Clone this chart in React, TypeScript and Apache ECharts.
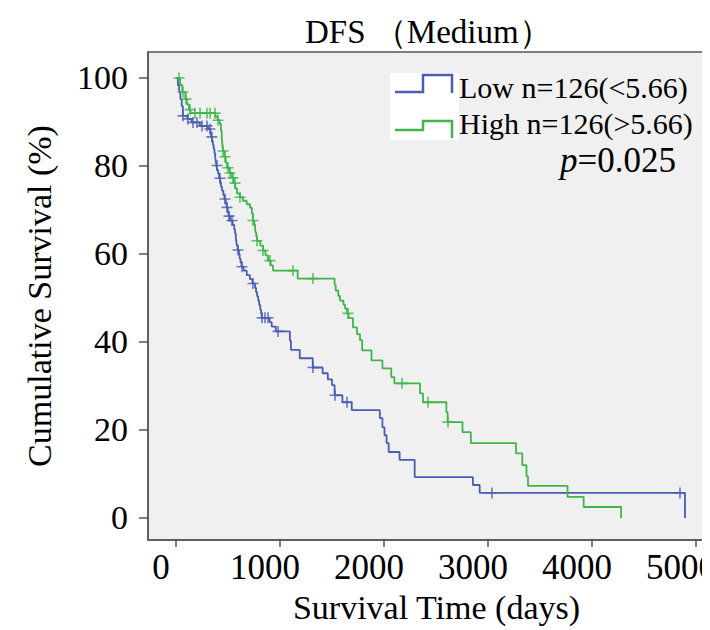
import React, { useEffect, useRef } from "react";
import * as echarts from "echarts";

const xTicks = [0, 1000, 2000, 3000, 4000, 5000];
const yTicks = [0, 20, 40, 60, 80, 100];

const lowLabel = "Low n=126(<5.66)";
const highLabel = "High n=126(>5.66)";
const pValue = "0.025";

// Kaplan-Meier steps: [time (days), cumulative survival (%) after the event]
const lowSteps: [number, number][] = [
  [0, 100], [18, 98.4], [30, 96.8], [42, 95.2], [55, 93.6], [66, 91.4], [110, 90.7], [150, 89.9], [230, 89.1], [310, 88.4],
  [330, 87.5], [338, 86.6], [346, 85.7], [355, 84.8], [362, 83.9], [370, 82.9], [377, 82.0], [383, 81.0], [389, 80.1], [395, 79.1],
  [405, 78.2], [415, 77.2], [425, 76.3], [433, 75.3], [442, 74.4], [455, 73.4], [466, 72.5], [478, 71.5], [488, 70.6], [497, 69.6],
  [505, 68.6], [520, 67.6], [545, 66.6], [560, 65.6], [568, 64.7], [575, 63.8], [580, 62.8], [585, 61.9], [592, 60.9], [605, 60.0],
  [612, 59.0], [620, 58.1], [630, 57.1], [650, 56.2], [680, 55.2], [710, 54.3], [735, 53.3], [760, 52.3], [770, 51.3], [780, 50.4],
  [790, 49.4], [800, 48.4], [810, 47.4], [818, 46.4], [825, 45.5], [900, 44.5], [920, 43.5], [960, 42.4], [1095, 40.3], [1105, 38.2],
  [1190, 36.3], [1315, 34.2], [1410, 32.9], [1460, 31.5], [1500, 30.2], [1525, 27.9], [1600, 26.3], [1690, 24.5], [1960, 22.7], [1985, 20.6],
  [2005, 18.8], [2025, 17.0], [2045, 15.0], [2150, 13.2], [2295, 9.3], [2855, 7.5], [2920, 5.7], [4894, 0],
];

const highSteps: [number, number][] = [
  [0, 100], [40, 98.4], [60, 96.8], [90, 95.2], [105, 94.0], [125, 92.8], [140, 92.0], [380, 91.2], [400, 90.4], [420, 89.6],
  [432, 88.0], [440, 86.4], [446, 84.9], [452, 83.4], [465, 82.1], [478, 80.8], [490, 79.6], [515, 78.4], [538, 77.3], [555, 76.1],
  [570, 74.9], [587, 73.7], [615, 72.9], [644, 72.1], [680, 71.3], [712, 70.5], [730, 69.2], [740, 67.6], [752, 66.8], [760, 65.9],
  [765, 64.9], [772, 63.9], [779, 63.0], [810, 61.9], [837, 60.8], [860, 59.7], [885, 58.5], [910, 57.4], [933, 56.2], [1170, 54.4],
  [1525, 53.0], [1535, 51.7], [1560, 50.5], [1577, 49.4], [1610, 48.5], [1625, 47.6], [1645, 46.5], [1660, 45.4], [1702, 43.3], [1740, 41.8],
  [1769, 40.4], [1790, 38.1], [1880, 35.8], [1985, 34.0], [2070, 32.0], [2100, 30.6], [2346, 28.3], [2375, 26.3], [2600, 24.0], [2612, 21.8],
  [2755, 19.5], [2835, 17.0], [3270, 14.7], [3330, 12.0], [3370, 9.5], [3385, 7.3], [3765, 4.8], [3920, 2.5], [4280, 0],
];

// censored observation times (days)
const lowCensored = [67, 115, 163, 202, 250, 298, 327, 345, 394, 423, 471, 490, 510, 538, 596, 635, 740, 827, 856, 885, 981, 1317, 1529, 1644, 3038, 4846];
const highCensored = [29, 67, 96, 135, 183, 231, 298, 327, 375, 404, 452, 471, 500, 519, 548, 567, 615, 740, 779, 837, 904, 1125, 1317, 1654, 2173, 2423, 2615];

function survivalAt(steps: [number, number][], t: number): number {
  let s = steps[0][1];
  for (const [ti, si] of steps) {
    if (ti <= t) s = si;
    else break;
  }
  return s;
}

const FONT = "'Liberation Serif', 'Times New Roman', serif";
const BLUE = "#4a5cb4";
const GREEN = "#3fb54b";
const AXIS = "#555555";
const PLUS = "path://M8.5,0h3v8.5h8.5v3h-8.5v8.5h-3v-8.5h-8.5v-3h8.5z";

export default function App() {
  const ref = useRef<HTMLDivElement>(null);
  useEffect(() => {
    const chart = echarts.init(ref.current!, null, { renderer: "svg" });
    const option: any = {
      animation: false,
      title: {
        text: "DFS （Medium）",
        left: 292,
        top: 2,
        textStyle: { fontFamily: FONT, fontSize: 33, fontWeight: "normal", color: "#000" },
      },
      grid: {
        left: 140,
        top: 44,
        width: 577,
        height: 488,
        show: true,
        backgroundColor: "#f0f0f0",
        borderColor: AXIS,
        borderWidth: 1.5,
      },
      xAxis: {
        type: "value",
        min: -269.2,
        max: 5279,
        axisLine: { show: true, onZero: false, lineStyle: { color: AXIS, width: 1.5 } },
        axisTick: { show: true, customValues: xTicks, length: 7, lineStyle: { color: AXIS, width: 1.5 } },
        axisLabel: {
          customValues: xTicks,
          formatter: (v: number) => String(v),
          fontFamily: FONT,
          fontSize: 35,
          color: "#000",
          margin: 10,
          padding: [0, 30, 0, 0],
        },
        splitLine: { show: false },
        name: "Survival Time (days)",
        nameLocation: "middle",
        nameGap: 50,
        nameTextStyle: { fontFamily: FONT, fontSize: 34, color: "#000" },
      },
      yAxis: {
        type: "value",
        min: -5,
        max: 105.9,
        axisLine: { show: true, onZero: false, lineStyle: { color: AXIS, width: 1.5 } },
        axisTick: { show: true, customValues: yTicks, length: 9, lineStyle: { color: AXIS, width: 1.5 } },
        axisLabel: {
          customValues: yTicks,
          formatter: (v: number) => String(v),
          fontFamily: FONT,
          fontSize: 34,
          color: "#000",
          margin: 20,
        },
        splitLine: { show: false },
        name: "Cumulative Survival (%)",
        nameLocation: "middle",
        nameGap: 92,
        nameRotate: 90,
        nameTextStyle: { fontFamily: FONT, fontSize: 34, color: "#000" },
      },
      series: [
        {
          type: "line",
          name: lowLabel,
          data: lowSteps,
          step: "end",
          symbol: "none",
          lineStyle: { color: BLUE, width: 1.8 },
          itemStyle: { color: BLUE },
          z: 2,
        },
        {
          type: "line",
          name: highLabel,
          data: highSteps,
          step: "end",
          symbol: "none",
          lineStyle: { color: GREEN, width: 1.8 },
          itemStyle: { color: GREEN },
          z: 3,
        },
        {
          type: "scatter",
          name: lowLabel + " censored",
          data: lowCensored.map((t) => [t, survivalAt(lowSteps, t)]),
          symbol: PLUS,
          symbolSize: 11,
          itemStyle: { color: BLUE },
          z: 4,
        },
        {
          type: "scatter",
          name: highLabel + " censored",
          data: highCensored.map((t) => [t, survivalAt(highSteps, t)]),
          symbol: PLUS,
          symbolSize: 11,
          itemStyle: { color: GREEN },
          z: 5,
        },
      ],
      graphic: [
        { type: "rect", shape: { x: 382, y: 65, width: 69, height: 67 }, style: { fill: "#ffffff" }, z: 10 },
        {
          type: "polyline",
          shape: { points: [[387, 84], [415, 84], [415, 67], [444, 67], [444, 85]] },
          style: { stroke: BLUE, lineWidth: 2.5, fill: null },
          z: 11,
        },
        {
          type: "polyline",
          shape: { points: [[387, 122], [415, 122], [415, 113], [444, 113], [444, 130]] },
          style: { stroke: GREEN, lineWidth: 2.5, fill: null },
          z: 11,
        },
        {
          type: "text",
          x: 451,
          y: 79,
          style: { text: lowLabel, fontFamily: FONT, fontSize: 30, fill: "#000", verticalAlign: "middle" },
          z: 11,
        },
        {
          type: "text",
          x: 451,
          y: 115,
          style: { text: highLabel, fontFamily: FONT, fontSize: 30, fill: "#000", verticalAlign: "middle" },
          z: 11,
        },
        {
          type: "text",
          x: 552,
          y: 152,
          style: {
            text: "{i|p}=" + pValue,
            fontFamily: FONT,
            fontSize: 35,
            fill: "#000",
            verticalAlign: "middle",
            rich: { i: { fontFamily: FONT, fontSize: 35, fontStyle: "italic", fill: "#000" } },
          },
          z: 11,
        },
      ],
    };
    chart.setOption(option);
    return () => chart.dispose();
  }, []);
  return (
    <div style={{ width: 702, height: 622, overflow: "hidden" }}>
      <div ref={ref} style={{ width: 720, height: 622 }} />
    </div>
  );
}
